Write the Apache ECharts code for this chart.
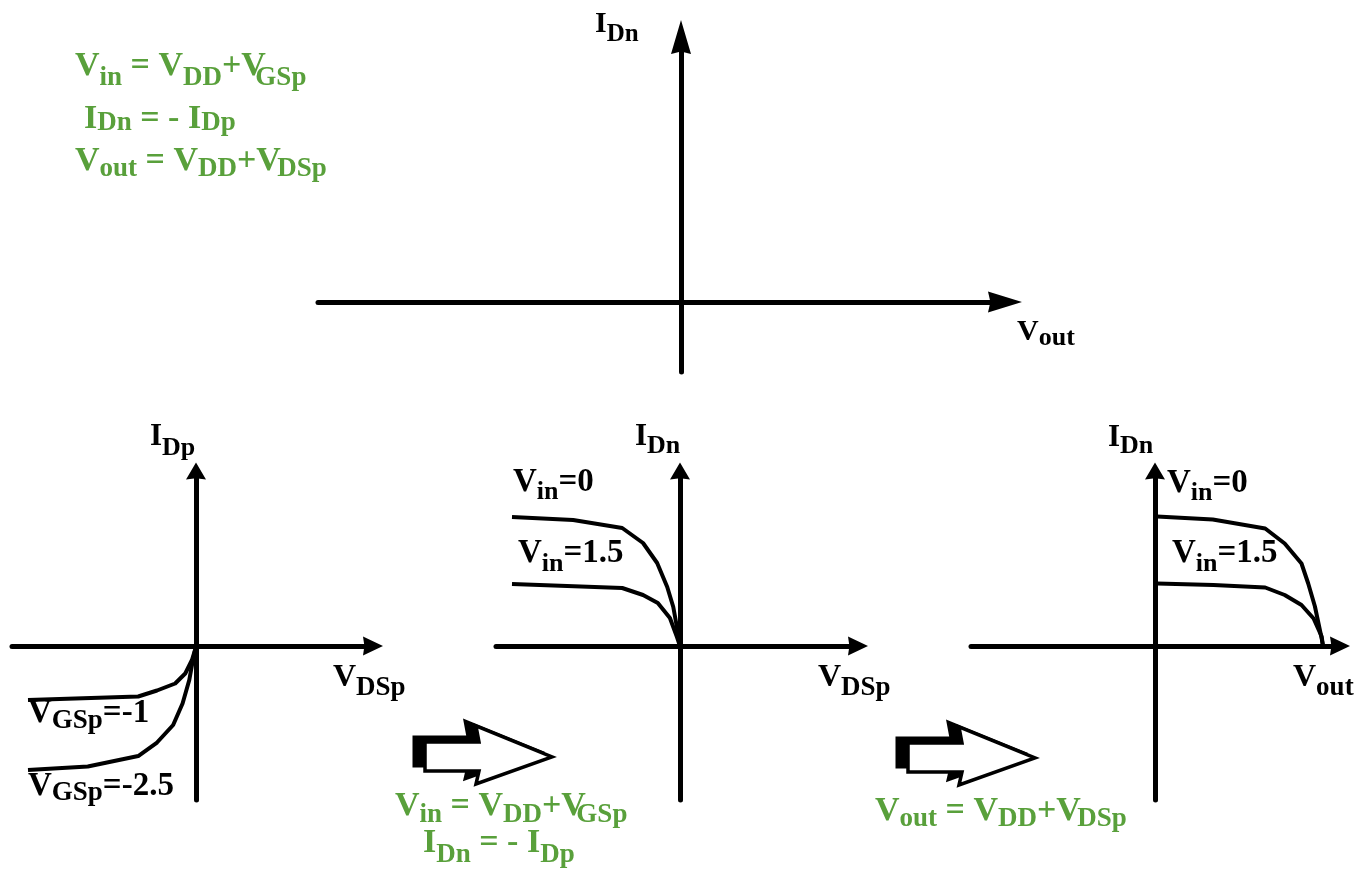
<!DOCTYPE html>
<html>
<head>
<meta charset="utf-8">
<script src="https://cdn.jsdelivr.net/npm/echarts@6/dist/echarts.min.js"></script>
<style>
  html, body { margin: 0; padding: 0; background: #ffffff; }
  #chart { width: 1364px; height: 872px; }
</style>
</head>
<body>
<div id="chart"></div>
<script>
// PMOS output characteristics (V_DSp [V], I_Dp), one curve per gate-source voltage
const pmosVgsMinus1   = [[-2.50, -1.08], [-0.86, -1.01], [-0.58, -0.89], [-0.31, -0.75], [-0.16, -0.55], [-0.06, -0.28], [-0.015, -0.08], [0, 0]];
const pmosVgsMinus2p5 = [[-2.50, -2.48], [-1.61, -2.41], [-0.86, -2.20], [-0.58, -1.93], [-0.34, -1.58], [-0.20, -1.15], [-0.10, -0.68], [-0.05, -0.31], [0, 0]];

// Same device seen as the NMOS load: (V_DSp, I_Dn) for two input voltages
const loadVin0   = [[-2.50, 2.58], [-1.59, 2.52], [-0.86, 2.36], [-0.55, 2.06], [-0.34, 1.66], [-0.19, 1.18], [-0.10, 0.78], [-0.03, 0.26], [0, 0]];
const loadVin1p5 = [[-2.50, 1.24], [-1.68, 1.20], [-0.86, 1.16], [-0.55, 1.02], [-0.33, 0.86], [-0.15, 0.56], [-0.045, 0.18], [0, 0]];

// Load lines shifted by V_DD: (V_out, I_Dn)
const outVin0   = [[0.03, 2.59], [0.86, 2.53], [1.64, 2.35], [1.93, 2.05], [2.18, 1.65], [2.28, 1.25], [2.38, 0.79], [2.48, 0.15], [2.50, 0]];
const outVin1p5 = [[0.03, 1.25], [0.87, 1.22], [1.64, 1.17], [1.93, 1.02], [2.18, 0.82], [2.36, 0.55], [2.48, 0.19], [2.50, 0]];

const SERIF = '"Liberation Serif", "Times New Roman", serif';
const GREEN = '#59a03b';
const INK = '#000000';

// pixel scale of the sketch axes
const PX_PER_V = 67.2;
const PX_PER_I = 50;

// A panel: grid box plus value ranges chosen so that (0,0) sits at the given origin
function panel(left, right, top, bottom, ox, oy) {
  return {
    grid: { left: left, top: top, width: right - left, height: bottom - top, containLabel: false, outerBoundsMode: 'none' },
    xMin: (left - ox) / PX_PER_V, xMax: (right - ox) / PX_PER_V,
    yMin: -(bottom - oy) / PX_PER_I, yMax: (oy - top) / PX_PER_I
  };
}

// Arrow head path whose box has exactly the requested size (axis arrows keep aspect)
function headPath(w, h) {
  const c = w / 2;
  return 'path://M' + c + ',0 L' + w + ',' + h + ' L' + c + ',' + (h * 0.93).toFixed(2) + ' L0,' + h + ' Z';
}

function axis(idx, min, max, head) {
  return {
    type: 'value', gridIndex: idx, min: min, max: max,
    axisLine: { show: true, onZero: true, symbol: ['none', headPath(head[0], head[1])], symbolSize: head,
                lineStyle: { color: INK, width: 5 } },
    axisTick: { show: false }, axisLabel: { show: false }, splitLine: { show: false }
  };
}

const panels = [
  panel(318, 1005, 37, 372, 681, 302),   // combined plot
  panel(12, 373, 471, 800, 196, 646),    // PMOS I_Dp vs V_DSp
  panel(496, 858, 471, 800, 680, 646),   // I_Dn vs V_DSp
  panel(971, 1340, 471, 800, 1155, 646)  // I_Dn vs V_out
];
const heads = [[[21, 34], [20, 34]], [[19, 20], [20, 17]], [[19, 20], [20, 17]], [[19, 20], [20, 17]]];

const xAxes = panels.map((p, i) => axis(i, p.xMin, p.xMax, heads[i][0]));
const yAxes = panels.map((p, i) => axis(i, p.yMin, p.yMax, heads[i][1]));

function curve(name, data, idx) {
  return {
    name: name, type: 'line', data: data, xAxisIndex: idx, yAxisIndex: idx,
    symbol: 'none', smooth: false, clip: false, silent: true,
    lineStyle: { color: INK, width: 4, join: 'round' }
  };
}

// Rich-text formula with lowered subscripts; capTop is the top of the capitals
function formula(text, x, capTop, main, sub, drop, color, narrow) {
  const base = { fontFamily: SERIF, fontWeight: 'bold', color: color, verticalAlign: 'top' };
  const rich = {
    m: Object.assign({}, base, { fontSize: main, lineHeight: main }),
    s: Object.assign({}, base, { fontSize: sub, lineHeight: sub, padding: [0.8375 * (main - sub) + drop, 0, 0, 0] }),
    n: Object.assign({}, base, { fontSize: main, lineHeight: main, width: narrow || main * 0.72 })
  };
  return {
    text: text, left: x, top: capTop - 0.1755 * main, padding: 0,
    textStyle: { fontFamily: SERIF, fontWeight: 'bold', fontSize: main, color: color, rich: rich }
  };
}

const titles = [
  // relations between the two transistors
  formula('{m|V}{s|in}{m| = V}{s|DD}{m|+}{n|V}{s|GSp}', 75, 55, 34, 27, 10, GREEN, 14),
  formula('{m|I}{s|Dn}{m| = - I}{s|Dp}', 84, 108, 34, 27, 2, GREEN),
  formula('{m|V}{s|out}{m| = V}{s|DD}{m|+}{n|V}{s|DSp}', 75, 150, 34, 27, 6, GREEN, 21),
  formula('{m|V}{s|in}{m| = V}{s|DD}{m|+}{n|V}{s|GSp}', 395, 795, 34, 27, 7, GREEN, 15),
  formula('{m|I}{s|Dn}{m| = - I}{s|Dp}', 423, 832, 34, 27, 10, GREEN),
  formula('{m|V}{s|out}{m| = V}{s|DD}{m|+}{n|V}{s|DSp}', 875, 800, 34, 27, 6, GREEN, 21),
  // axis names
  formula('{m|I}{s|Dn}', 595, 15, 30, 25, 8, INK),
  formula('{m|V}{s|out}', 1017, 323, 30, 26, 4, INK),
  formula('{m|I}{s|Dp}', 150, 427, 31, 26, 10, INK),
  formula('{m|I}{s|Dn}', 635, 427, 31, 26, 8, INK),
  formula('{m|I}{s|Dn}', 1108, 428, 31, 26, 7, INK),
  formula('{m|V}{s|DSp}', 333, 667, 32, 27, 9, INK),
  formula('{m|V}{s|DSp}', 818, 667, 32, 27, 9, INK),
  formula('{m|V}{s|out}', 1293, 667, 32, 27, 9, INK),
  // curve names
  formula('{m|V}{s|GSp}{m|=-1}', 28, 703, 33, 27, 5, INK),
  formula('{m|V}{s|GSp}{m|=-2.5}', 28, 776, 33, 27, 4, INK),
  formula('{m|V}{s|in}{m|=0}', 513, 472, 33, 26, 7, INK),
  formula('{m|V}{s|in}{m|=1.5}', 518, 543, 33, 26, 8, INK),
  formula('{m|V}{s|in}{m|=0}', 1167, 473, 33, 26, 7, INK),
  formula('{m|V}{s|in}{m|=1.5}', 1172, 543, 33, 26, 8, INK)
];

// Hollow block arrow with a dark offset backing, placed at (x, y)
function blockArrow(x, y) {
  const pts = [[12, 7], [66, 7], [63, -9], [139, 22], [63, 49], [66, 36], [12, 36]];
  return {
    type: 'group', x: x, y: y, silent: true,
    children: [
      { type: 'polygon', x: -11, y: -5, shape: { points: pts }, style: { fill: INK, stroke: INK, lineWidth: 3 } },
      { type: 'polygon', shape: { points: pts }, style: { fill: '#ffffff', stroke: INK, lineWidth: 3.5, lineJoin: 'miter' } }
    ]
  };
}

const chart = echarts.init(document.getElementById('chart'), null, { renderer: 'canvas' });
chart.setOption({
  backgroundColor: '#ffffff',
  animation: false,
  title: titles,
  grid: panels.map(p => p.grid),
  xAxis: xAxes,
  yAxis: yAxes,
  series: [
    curve('V_GSp = -1', pmosVgsMinus1, 1),
    curve('V_GSp = -2.5', pmosVgsMinus2p5, 1),
    curve('V_in = 0', loadVin0, 2),
    curve('V_in = 1.5', loadVin1p5, 2),
    curve('V_in = 0', outVin0, 3),
    curve('V_in = 1.5', outVin1p5, 3)
  ],
  graphic: [blockArrow(413, 735), blockArrow(896, 736)]
});
</script>
</body>
</html>
